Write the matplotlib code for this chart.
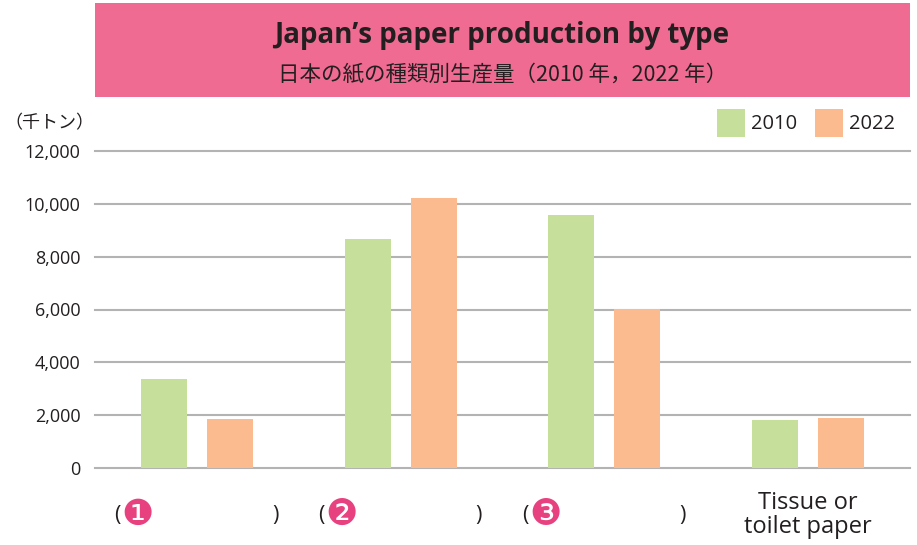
import matplotlib
matplotlib.use("Agg")
import matplotlib.pyplot as plt
import numpy as np
from matplotlib.patches import Rectangle
from matplotlib.transforms import blended_transform_factory

plt.rcParams['font.family'] = ['Open Sans', 'Noto Sans CJK JP', 'DejaVu Sans']

categories = ["❶", "❷", "❸", "Tissue or\ntoilet paper"]
series_names = ["2010", "2022"]
values_2010 = [3370, 8670, 9580, 1820]
values_2022 = [1860, 10220, 6020, 1890]
yticks = [0, 2000, 4000, 6000, 8000, 10000, 12000]
ytick_labels = ["0", "2,000", "4,000", "6,000", "8,000", "10,000", "12,000"]
title_en = "Japan’s paper production by type"
title_ja = "日本の紙の種類別生産量（2010 年，2022 年）"
unit_label = "（千トン）"

green = "#c6e09c"
orange = "#fbbb8f"
pink_banner = "#ef6b92"
pink_num = "#e8417f"
grid_col = "#b3b3b3"
text_col = "#231f20"

W, H = 917, 545
fig = plt.figure(figsize=(W / 100, H / 100), dpi=100)

def fx(px):
    return px / W

def fy(py):
    return 1 - py / H

ax = fig.add_axes([fx(95), fy(468), fx(910) - fx(95), fy(151) - fy(468)])
ax.set_xlim(-0.5, 3.5)
ax.set_ylim(0, 12000)
for s in ax.spines.values():
    s.set_visible(False)
ax.set_xticks([])
ax.set_yticks(yticks)
ax.set_yticklabels(ytick_labels, fontsize=13, fontweight='medium', color=text_col)
ax.tick_params(axis='y', length=0, pad=10.5)
for t in yticks:
    ax.axhline(t, color=grid_col, lw=1.5, zorder=1, clip_on=False)

x = np.arange(len(categories))
off = 0.162
bw = 0.225
ax.bar(x - off, values_2010, width=bw, color=green, zorder=3)
ax.bar(x + off, values_2022, width=bw, color=orange, zorder=3)

# x labels
tr = blended_transform_factory(ax.transData, fig.transFigure)
ylab = fy(516)
for i, c in enumerate(categories[:3]):
    ax.text(i - 0.405, ylab, "(", transform=tr, ha='left', va='center', fontsize=15.5, color=text_col)
    ax.text(i - 0.37, fy(515), c, transform=tr, ha='left', va='center', fontsize=26,
            color=pink_num, family=['DejaVu Sans'])
    ax.text(i + 0.40, ylab, ")", transform=tr, ha='right', va='center', fontsize=15.5, color=text_col)
ax.text(3, fy(515), categories[3], transform=tr, ha='center', va='center', fontsize=17,
        color=text_col, linespacing=1.05)

# banner
fig.patches.append(Rectangle((fx(95), fy(97)), fx(910) - fx(95), fy(3) - fy(97),
                             transform=fig.transFigure, facecolor=pink_banner, edgecolor='none', zorder=0))
fig.text(fx(502), fy(35), title_en, ha='center', va='center', fontsize=20, fontweight='bold', color=text_col)
fig.text(fx(503), fy(75), title_ja, ha='center', va='center', fontsize=15.5, color=text_col,
         family=['Noto Sans CJK JP', 'DejaVu Sans'])

# unit label
fig.text(fx(4), fy(123), unit_label, ha='left', va='center', fontsize=13, color=text_col,
         family=['Noto Sans CJK JP', 'DejaVu Sans'])

# legend
for px, col, name in [(717, green, series_names[0]), (815, orange, series_names[1])]:
    fig.patches.append(Rectangle((fx(px), fy(137)), fx(28), fy(109) - fy(137),
                                 transform=fig.transFigure, facecolor=col, edgecolor='none'))
    fig.text(fx(px + 34), fy(124), name, ha='left', va='center', fontsize=14.5, color=text_col)

fig.savefig("out.png", dpi=100)
